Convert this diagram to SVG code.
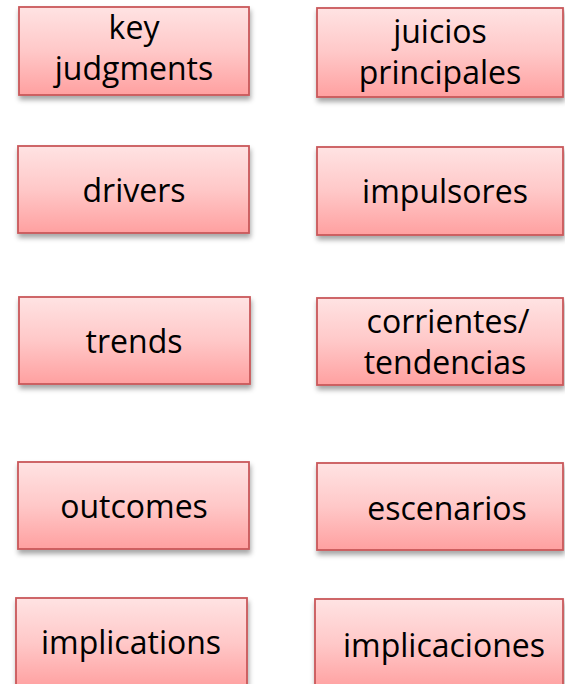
<svg xmlns="http://www.w3.org/2000/svg" width="565" height="684" viewBox="0 0 565 684">
<defs>
<linearGradient id="g" x1="0" y1="0" x2="0" y2="1">
<stop offset="0" stop-color="#FFE3E3"/>
<stop offset="0.5" stop-color="#FFC8C8"/>
<stop offset="1" stop-color="#FFA0A0"/>
</linearGradient>
<filter id="sh" x="-10%" y="-10%" width="125%" height="135%">
<feDropShadow dx="1" dy="4" stdDeviation="2.5" flood-color="#000" flood-opacity="0.35"/>
</filter>
</defs>
<style>
.box{fill:url(#g);stroke:#C9585A;stroke-width:1.8;filter:url(#sh)}
.t{font-family:"Open Sans","Noto Sans",sans-serif;font-size:32px;fill:#000;text-anchor:middle}
</style>
<rect width="565" height="684" fill="#fff"/>
<g id="connectors"/>
<g id="key-judgments"><rect class="box" x="19" y="7" width="230" height="88"/><text class="t" x="134" y="39">key</text><text class="t" x="134" y="80">judgments</text></g>
<g id="juicios-principales"><rect class="box" x="317" y="8" width="246" height="89"/><text class="t" x="440" y="43">juicios</text><text class="t" x="440" y="84">principales</text></g>
<g id="drivers"><rect class="box" x="18" y="146" width="231" height="87"/><text class="t" x="134" y="202">drivers</text></g>
<g id="impulsores"><rect class="box" x="317" y="147" width="246" height="88"/><text class="t" x="445" y="203">impulsores</text></g>
<g id="trends"><rect class="box" x="19" y="297" width="231" height="87"/><text class="t" x="134" y="353">trends</text></g>
<g id="corrientes-tendencias"><rect class="box" x="317" y="298" width="246" height="87"/><text class="t" x="448" y="333">corrientes/</text><text class="t" x="445" y="374">tendencias</text></g>
<g id="outcomes"><rect class="box" x="18" y="462" width="231" height="87"/><text class="t" x="134" y="518">outcomes</text></g>
<g id="escenarios"><rect class="box" x="317" y="463" width="246" height="87"/><text class="t" x="447" y="520">escenarios</text></g>
<g id="implications"><rect class="box" x="16" y="598" width="231" height="90"/><text class="t" x="131" y="654">implications</text></g>
<g id="implicaciones"><rect class="box" x="315" y="599" width="248" height="90"/><text class="t" x="444" y="657">implicaciones</text></g>
</svg>
